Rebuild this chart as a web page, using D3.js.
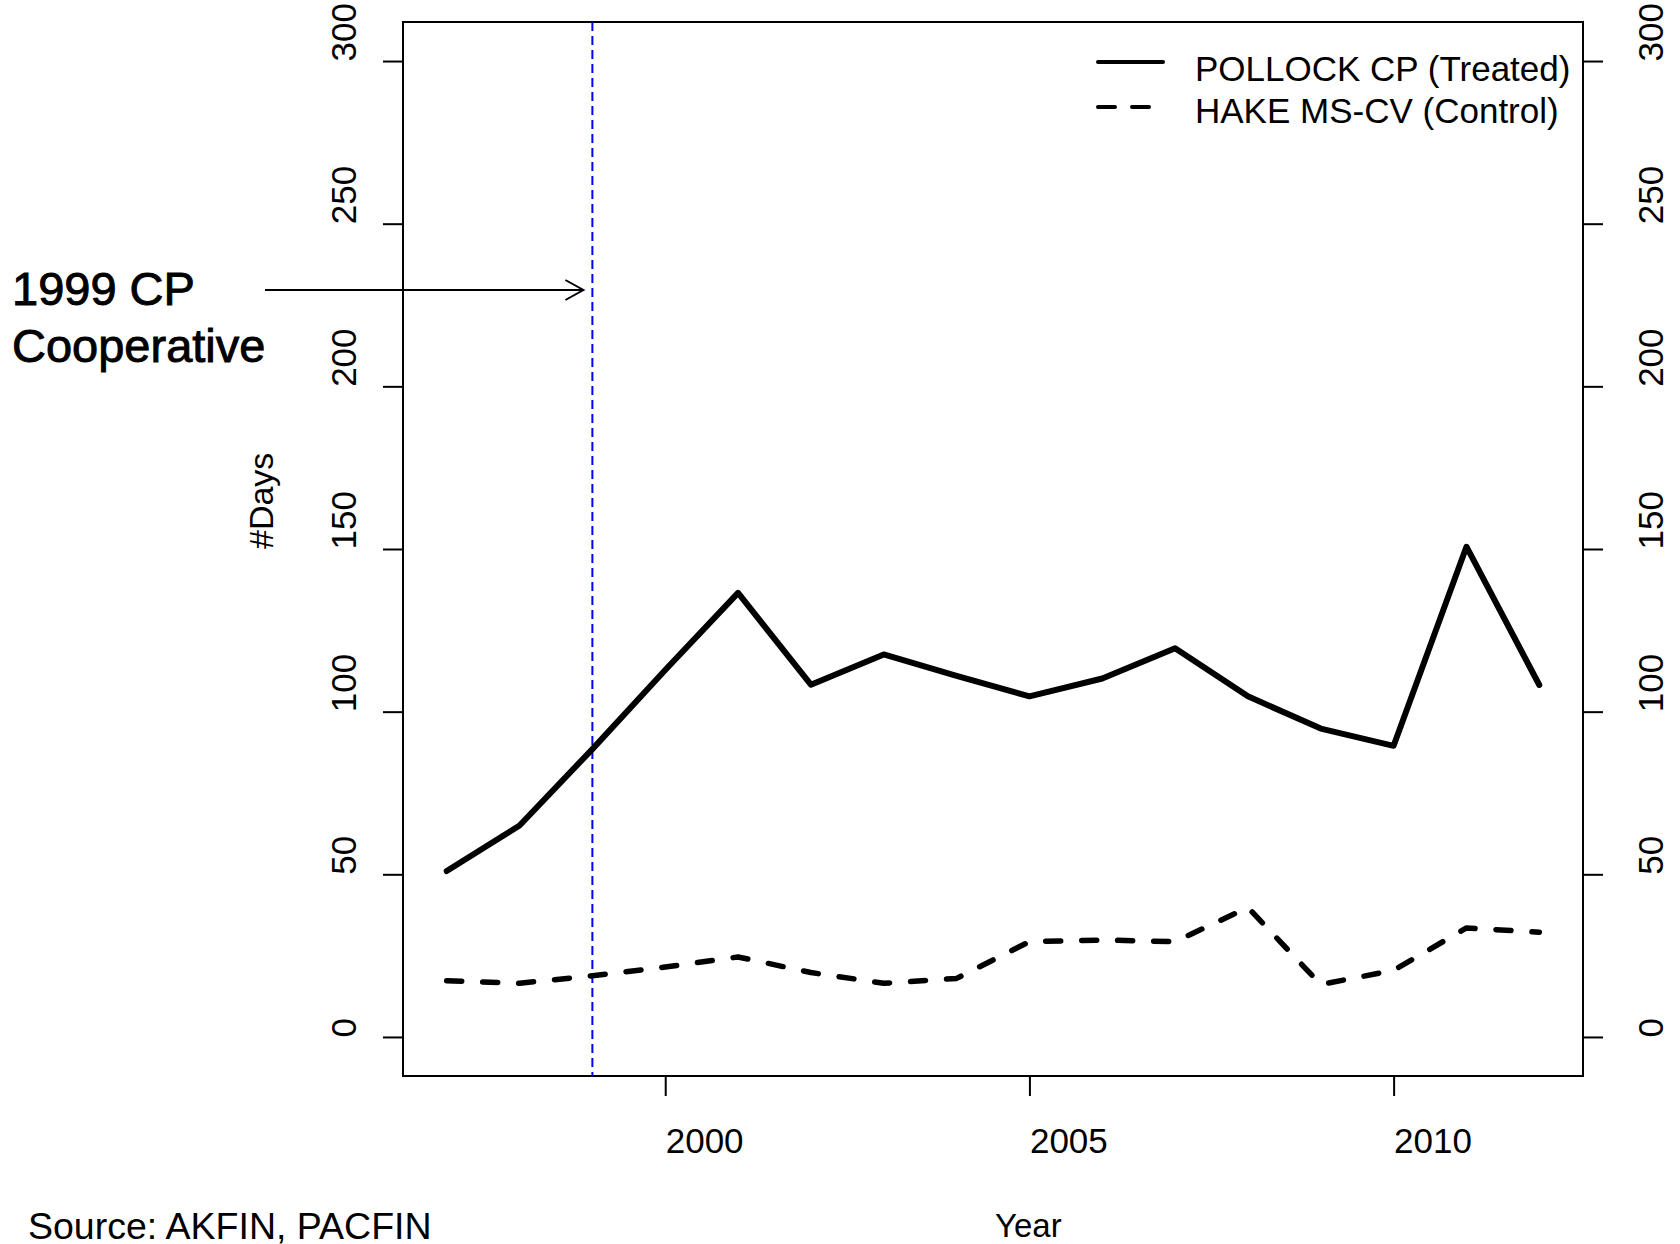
<!DOCTYPE html>
<html>
<head>
<meta charset="utf-8">
<script src="https://cdn.jsdelivr.net/npm/d3@7"></script>
<style>
  body { margin: 0; background: #fff; }
  svg text { font-family: "Liberation Sans", Arial, Helvetica, sans-serif; fill: #000; }
</style>
</head>
<body>
<script>
// data
const years = [1997, 1998, 1999, 2000, 2001, 2002, 2003, 2004, 2005, 2006, 2007, 2008, 2009, 2010, 2011, 2012];
const pollock = [51, 65, 88.5, 112.8, 136.5, 108.3, 117.6, 111, 104.7, 110.2, 119.5, 104.7, 94.8, 89.5, 150.7, 108.2];
const hake = [17.3, 16.5, 18.8, 21.5, 24.6, 19.8, 16.5, 18, 29.3, 29.8, 29.3, 39.8, 16.1, 20.5, 33.5, 32.2];
const yTicks = [0, 50, 100, 150, 200, 250, 300];
const xTicks = [2000, 2005, 2010];
const seriesNames = ["POLLOCK CP (Treated)", "HAKE MS-CV (Control)"];
const coopYear = 1999;

const svgWidth = 1680;
const svgHeight = 1244;

const plot = { left: 403, right: 1583, top: 22, bottom: 1076 };

const svg = d3
    .select("body")
    .append("svg")
    .attr("width", svgWidth)
    .attr("height", svgHeight);

// R style ranges: data range extended by 4%
const xScale = d3
    .scaleLinear()
    .domain([1996.4, 2012.6])
    .range([plot.left, plot.right]);
const yScale = d3
    .scaleLinear()
    .domain([-12, 312])
    .range([plot.bottom, plot.top]);

const tickFont = 35;

// left axis
const leftAxis = svg
    .append("g")
    .attr("transform", `translate(${plot.left},0)`)
    .call(d3.axisLeft(yScale).tickValues(yTicks).tickSize(20).tickSizeOuter(0));
leftAxis.select(".domain")
    .attr("d", `M0,${yScale(0)}V${yScale(300)}`)
    .attr("stroke-width", 2);
leftAxis.selectAll(".tick line").attr("stroke-width", 2);
leftAxis.selectAll(".tick text")
    .attr("x", null).attr("dy", null)
    .attr("transform", "translate(-47,0) rotate(-90)")
    .attr("text-anchor", "start")
    .style("font-size", tickFont + "px")
    .style("font-family", null);

// right axis
const rightAxis = svg
    .append("g")
    .attr("transform", `translate(${plot.right},0)`)
    .call(d3.axisRight(yScale).tickValues(yTicks).tickSize(20).tickSizeOuter(0));
rightAxis.select(".domain")
    .attr("d", `M0,${yScale(0)}V${yScale(300)}`)
    .attr("stroke-width", 2);
rightAxis.selectAll(".tick line").attr("stroke-width", 2);
rightAxis.selectAll(".tick text")
    .attr("x", null).attr("dy", null)
    .attr("transform", "translate(80,0) rotate(-90)")
    .attr("text-anchor", "start")
    .style("font-size", tickFont + "px")
    .style("font-family", null);

// bottom axis
const bottomAxis = svg
    .append("g")
    .attr("transform", `translate(0,${plot.bottom})`)
    .call(d3.axisBottom(xScale).tickValues(xTicks).tickFormat(d3.format("d")).tickSize(20).tickSizeOuter(0));
bottomAxis.select(".domain")
    .attr("d", `M${xScale(2000)},0H${xScale(2010)}`)
    .attr("stroke-width", 2);
bottomAxis.selectAll(".tick line").attr("stroke-width", 2);
bottomAxis.selectAll(".tick text")
    .attr("y", 77).attr("dy", null)
    .attr("text-anchor", "start")
    .style("font-size", tickFont + "px")
    .style("font-family", null);

svg.selectAll(".domain, .tick line").attr("stroke", "#000");

// box
svg.append("rect")
    .attr("x", plot.left)
    .attr("y", plot.top)
    .attr("width", plot.right - plot.left)
    .attr("height", plot.bottom - plot.top)
    .attr("fill", "none")
    .attr("stroke", "#000")
    .attr("stroke-width", 2);

// 1999 line
svg.append("line")
    .attr("x1", xScale(coopYear)).attr("x2", xScale(coopYear))
    .attr("y1", plot.top).attr("y2", plot.bottom)
    .attr("stroke", "#0000ff")
    .attr("stroke-width", 2)
    .attr("stroke-dasharray", "9,5");

const line = d3.line()
    .x((d, i) => xScale(years[i]))
    .y(d => yScale(d));

svg.append("path")
    .datum(pollock)
    .attr("d", line)
    .attr("fill", "none")
    .attr("stroke", "#000")
    .attr("stroke-width", 6)
    .attr("stroke-linejoin", "round")
    .attr("stroke-linecap", "round");

svg.append("path")
    .datum(hake)
    .attr("d", line)
    .attr("fill", "none")
    .attr("stroke", "#000")
    .attr("stroke-width", 5.5)
    .attr("stroke-linejoin", "round")
    .attr("stroke-linecap", "round")
    .attr("stroke-dasharray", "15,21");

// legend
const legendY = [62, 107];
const legendBase = [81, 123];
const legend = svg.append("g");
legendY.forEach((ly, i) => {
    legend.append("line")
        .attr("x1", 1098).attr("x2", 1163)
        .attr("y1", ly).attr("y2", ly)
        .attr("stroke", "#000")
        .attr("stroke-width", 4)
        .attr("stroke-linecap", "round")
        .attr("stroke-dasharray", i === 0 ? null : "17,17");
    legend.append("text")
        .attr("x", 1195)
        .attr("y", legendBase[i])
        .style("font-size", "35px")
        .text(seriesNames[i]);
});

// annotation
[["1999 CP", 305], ["Cooperative", 362]].forEach(([t, ty]) => {
    svg.append("text")
        .attr("x", 12).attr("y", ty)
        .style("font-size", "47px")
        .attr("stroke", "#000")
        .attr("stroke-width", 0.9)
        .text(t);
});

const ay = 290;
const ax2 = xScale(coopYear) - 9;
svg.append("path")
    .attr("d", `M265,${ay}H${ax2}M${ax2 - 18},${ay - 10}L${ax2},${ay}L${ax2 - 18},${ay + 10}`)
    .attr("fill", "none")
    .attr("stroke", "#000")
    .attr("stroke-width", 2);

// axis titles
svg.append("text")
    .attr("transform", `translate(273,${(plot.top + plot.bottom) / 2}) rotate(-90)`)
    .attr("text-anchor", "start")
    .style("font-size", "34px")
    .text("#Days");

svg.append("text")
    .attr("x", (plot.left + plot.right) / 2 + 2)
    .attr("y", 1237)
    .style("font-size", "33px")
    .text("Year");

svg.append("text")
    .attr("x", 28)
    .attr("y", 1239)
    .style("font-size", "37.5px")
    .text("Source: AKFIN, PACFIN");
</script>
</body>
</html>
